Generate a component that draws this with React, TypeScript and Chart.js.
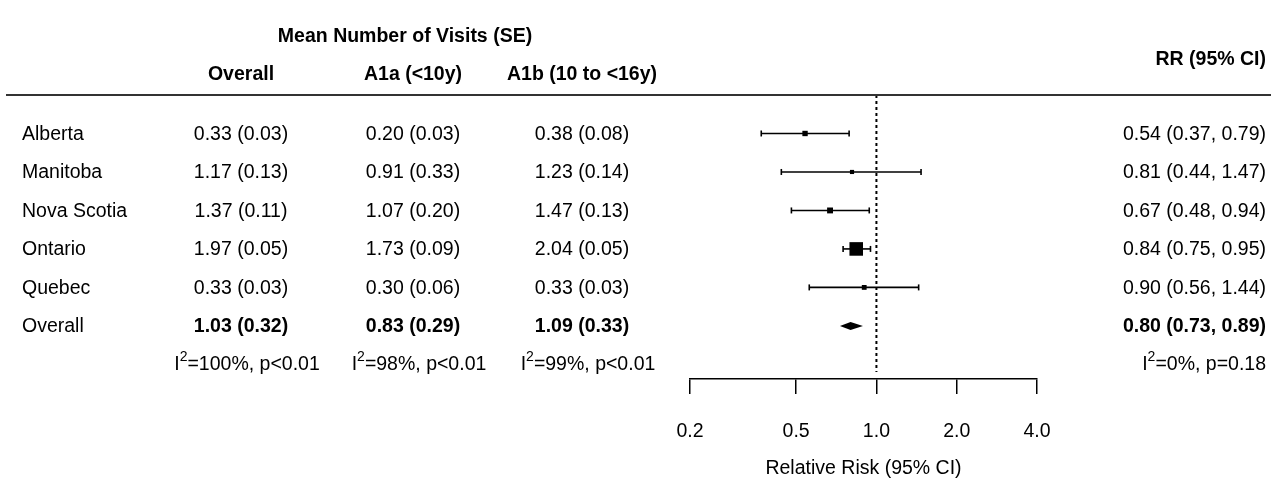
import React, { useEffect, useRef } from 'react';
import { Chart, registerables } from 'chart.js';

Chart.register(...registerables);

// ---------- data ----------
const studies = ['Alberta', 'Manitoba', 'Nova Scotia', 'Ontario', 'Quebec'];
const meanOverall = [0.33, 1.17, 1.37, 1.97, 0.33];
const seOverall = [0.03, 0.13, 0.11, 0.05, 0.03];
const meanA1a = [0.2, 0.91, 1.07, 1.73, 0.3];
const seA1a = [0.03, 0.33, 0.2, 0.09, 0.06];
const meanA1b = [0.38, 1.23, 1.47, 2.04, 0.33];
const seA1b = [0.08, 0.14, 0.13, 0.05, 0.03];
const rr = [0.54, 0.81, 0.67, 0.84, 0.9];
const rrLow = [0.37, 0.44, 0.48, 0.75, 0.56];
const rrHigh = [0.79, 1.47, 0.94, 0.95, 1.44];
const weights = [10, 6, 12, 64, 8];

const pooledLabel = 'Overall';
const pooledMean = [1.03, 0.83, 1.09];
const pooledSe = [0.32, 0.29, 0.33];
const pooledRR = [0.8, 0.73, 0.89]; // estimate, low, high
const hetI2 = [100, 98, 99];
const hetP = ['p<0.01', 'p<0.01', 'p<0.01'];
const rrHetI2 = 0;
const rrHetP = 'p=0.18';

const xTicks = [0.2, 0.5, 1, 2, 4];
const groupHeader = 'Mean Number of Visits (SE)';
const columnHeaders = ['Overall', 'A1a (<10y)', 'A1b (10 to <16y)'];
const rrHeader = 'RR (95% CI)';
const xTitle = 'Relative Risk (95% CI)';

// ---------- styling ----------
const FONT = "'Liberation Sans', Arial, Helvetica, sans-serif";
const SIZE = 19.5;
const REG = `${SIZE}px ${FONT}`;
const BOLD = `bold ${SIZE}px ${FONT}`;
const SMALL = `${Math.round(SIZE * 0.7)}px ${FONT}`;
const colX = [241, 413, 582];
const nameX = 22;
const rrX = 1266;
const ROW_DY = 1;
const HEAD_DY = 2;

const f2 = (v: number) => v.toFixed(2);
const meanCell = (m: number, s: number) => `${f2(m)} (${f2(s)})`;
const rrCell = (e: number, l: number, h: number) => `${f2(e)} (${f2(l)}, ${f2(h)})`;

function drawI2(ctx: CanvasRenderingContext2D, x: number, y: number, i2: number, p: string, align: 'center' | 'right') {
  const a = 'I';
  const sup = '2';
  const rest = `=${i2}%, ${p}`;
  ctx.font = REG;
  const wa = ctx.measureText(a).width;
  const wr = ctx.measureText(rest).width;
  ctx.font = SMALL;
  const ws = ctx.measureText(sup).width;
  const total = wa + ws + wr;
  const x0 = align === 'center' ? x - total / 2 : x - total;
  ctx.textAlign = 'left';
  ctx.font = REG;
  ctx.fillText(a, x0, y);
  ctx.font = SMALL;
  ctx.fillText(sup, x0 + wa, y - 7);
  ctx.font = REG;
  ctx.fillText(rest, x0 + wa + ws, y);
}

const forestPlugin = {
  id: 'forestText',
  afterDatasetsDraw(chart: any) {
    const ctx: CanvasRenderingContext2D = chart.ctx;
    const xs = chart.scales.x;
    const ys = chart.scales.y;
    // pooled diamond
    const py = ys.getPixelForValue(studies.length + 1);
    const xl = xs.getPixelForValue(pooledRR[1]);
    const xe = xs.getPixelForValue(pooledRR[0]);
    const xh = xs.getPixelForValue(pooledRR[2]);
    ctx.save();
    ctx.fillStyle = '#000';
    ctx.beginPath();
    ctx.moveTo(xl, py);
    ctx.lineTo(xe, py - 4);
    ctx.lineTo(xh, py);
    ctx.lineTo(xe, py + 4);
    ctx.closePath();
    ctx.fill();
    ctx.restore();
  },
  afterDraw(chart: any) {
    const ctx: CanvasRenderingContext2D = chart.ctx;
    const ys = chart.scales.y;
    const top = chart.chartArea.top;
    ctx.save();
    ctx.fillStyle = '#000';
    ctx.textBaseline = 'middle';

    // headers
    ctx.font = BOLD;
    ctx.textAlign = 'center';
    ctx.fillText(groupHeader, 405, 35 + HEAD_DY);
    columnHeaders.forEach((h, i) => ctx.fillText(h, colX[i], 73 + HEAD_DY));
    ctx.textAlign = 'right';
    ctx.fillText(rrHeader, rrX, 58 + HEAD_DY);

    // header rule
    ctx.strokeStyle = '#333';
    ctx.lineWidth = 2;
    ctx.beginPath();
    ctx.moveTo(6, top);
    ctx.lineTo(1271, top);
    ctx.stroke();

    // study rows
    const means = [meanOverall, meanA1a, meanA1b];
    const ses = [seOverall, seA1a, seA1b];
    studies.forEach((s, i) => {
      const y = ys.getPixelForValue(i + 1) + ROW_DY;
      ctx.font = REG;
      ctx.textAlign = 'left';
      ctx.fillText(s, nameX, y);
      ctx.textAlign = 'center';
      means.forEach((m, c) => ctx.fillText(meanCell(m[i], ses[c][i]), colX[c], y));
      ctx.textAlign = 'right';
      ctx.fillText(rrCell(rr[i], rrLow[i], rrHigh[i]), rrX, y);
    });

    // pooled row
    const py = ys.getPixelForValue(studies.length + 1) + ROW_DY;
    ctx.font = REG;
    ctx.textAlign = 'left';
    ctx.fillText(pooledLabel, nameX, py);
    ctx.font = BOLD;
    ctx.textAlign = 'center';
    pooledMean.forEach((m, c) => ctx.fillText(meanCell(m, pooledSe[c]), colX[c], py));
    ctx.textAlign = 'right';
    ctx.fillText(rrCell(pooledRR[0], pooledRR[1], pooledRR[2]), rrX, py);

    // heterogeneity row
    const hy = ys.getPixelForValue(studies.length + 2);
    hetI2.forEach((v, c) => drawI2(ctx, colX[c] + 6, hy, v, hetP[c], 'center'));
    drawI2(ctx, rrX, hy, rrHetI2, rrHetP, 'right');
    ctx.restore();
  },
};

export default function App() {
  const ref = useRef<HTMLCanvasElement>(null);
  useEffect(() => {
    const canvas = ref.current;
    if (!canvas) return;
    const ciSets = studies.map((s, i) => ({
      label: s,
      data: [
        { x: rrLow[i], y: i + 1 },
        { x: rrHigh[i], y: i + 1 },
      ],
      showLine: true,
      borderColor: '#000',
      borderWidth: 1.6,
      pointStyle: 'line',
      pointRotation: 90,
      pointRadius: 3,
      pointBorderWidth: 1.6,
      pointBorderColor: '#000',
      pointBackgroundColor: '#000',
    }));
    const chart = new Chart(canvas, {
      type: 'scatter',
      data: {
        datasets: [
          {
            label: 'ref',
            data: [
              { x: 1, y: 0 },
              { x: 1, y: 7.2 },
            ],
            showLine: true,
            borderColor: '#000',
            borderWidth: 2,
            borderDash: [3, 3],
            pointRadius: 0,
          } as any,
          ...ciSets,
          {
            label: 'estimates',
            data: studies.map((s, i) => ({ x: rr[i], y: i + 1 })),
            pointStyle: 'rect',
            pointRadius: weights.map((w) => 1.2 * Math.sqrt(w)),
            backgroundColor: '#000',
            borderColor: '#000',
            pointBorderWidth: 0,
          },
        ],
      },
      options: {
        responsive: false,
        animation: false,
        events: [],
        layout: { padding: { left: 690, right: 234, top: 95, bottom: 0 } },
        plugins: { legend: { display: false }, tooltip: { enabled: false } },
        scales: {
          x: {
            type: 'logarithmic',
            position: 'bottom',
            min: 0.2,
            max: 4,
            afterBuildTicks: (s: any) => {
              s.ticks = xTicks.map((v) => ({ value: v }));
            },
            afterFit: (s: any) => {
              s.height = 100;
            },
            grid: { display: true, drawOnChartArea: false, drawTicks: true, tickLength: 15, color: '#000', lineWidth: 1.5 },
            border: { display: true, color: '#000', width: 1.5 },
            ticks: {
              padding: 26,
              autoSkip: false,
              maxRotation: 0,
              color: '#000',
              font: { family: FONT, size: SIZE },
              callback: (v: any) => Number(v).toFixed(1),
            },
            title: {
              display: true,
              text: xTitle,
              color: '#000',
              font: { family: FONT, size: SIZE, lineHeight: 1.1 },
              padding: { top: 0, bottom: 0 },
            },
          },
          y: { type: 'linear', display: false, min: 0, max: 7.38, reverse: true },
        },
      },
      plugins: [forestPlugin],
    } as any);
    return () => chart.destroy();
  }, []);
  return (
    <div style={{ position: 'absolute', left: 0, top: 0, width: 1271, height: 479, background: '#fff' }}>
      <canvas ref={ref} width={1271} height={479} style={{ display: 'block' }} />
    </div>
  );
}
